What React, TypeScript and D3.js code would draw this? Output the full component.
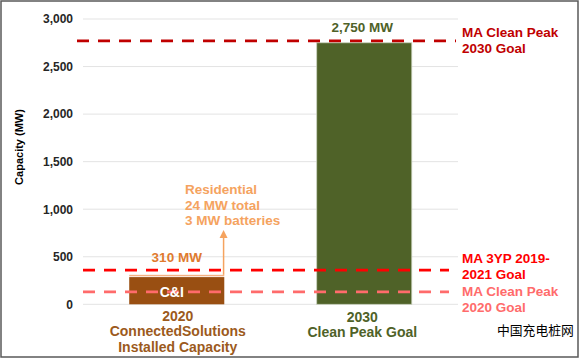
import React from "react";
import * as d3 from "d3";

const categories = ["2020", "2030"];
const categoryLabels = [
  ["2020", "ConnectedSolutions", "Installed Capacity"],
  ["2030", "Clean Peak Goal"],
];
const ciValues = [286, 0];
const residentialValues = [24, 0];
const goalBarValues = [0, 2750];
const barValueLabels = ["310 MW", "2,750 MW"];
const barTotals = [310, 2750];
const yTicks = [0, 500, 1000, 1500, 2000, 2500, 3000];
const goalLineNames = [
  ["MA Clean Peak", "2030 Goal"],
  ["MA 3YP 2019-", "2021 Goal"],
  ["MA Clean Peak", "2020 Goal"],
];
const goalLineValues = [2770, 360, 130];
const residentialNote = ["Residential", "24 MW total", "3 MW batteries"];
const residentialArrowTop = 750;

const W = 582;
const H = 360;
const FONT = "'Liberation Sans', Arial, sans-serif";

export default function App() {
  const y = d3.scaleLinear().domain([0, 3000]).range([304.3, 19]);
  const x = d3
    .scaleBand<string>()
    .domain(categories)
    .range([83, 458])
    .paddingInner(0.493)
    .paddingOuter(0.2465);
  const bw = x.bandwidth();
  const fmt = d3.format(",");

  const goalColors = ["#C00000", "#FF0000", "#FF6B6B"];
  const goalX = [
    [77, 456],
    [83, 449],
    [83, 449],
  ];
  const goalLabelBase = [
    [37, 53],
    [263, 279],
    [296, 311.5],
  ];

  const x0 = x(categories[0])!;
  const x1 = x(categories[1])!;
  const c0 = x0 + bw / 2;
  const c1 = x1 + bw / 2;

  return (
    <svg
      width={W}
      height={H}
      style={{ position: "fixed", left: 0, top: 0, background: "#fff" }}
      fontFamily={FONT}
    >
      <rect x={0} y={0} width={W} height={H} fill="#fff" />
      <rect x={1} y={1} width={577} height={356} fill="none" stroke="#595959" strokeWidth={1.5} />

      {/* gridlines */}
      {yTicks.map((t) => (
        <line key={t} x1={83} x2={458} y1={y(t)} y2={y(t)} stroke="#E3E3E3" strokeWidth={1} />
      ))}
      {/* tick labels */}
      {yTicks.map((t) => (
        <text
          key={"l" + t}
          x={73}
          y={y(t) + 4.3}
          textAnchor="end"
          fontSize={12}
          fontWeight="bold"
          fill="#262626"
        >
          {fmt(t)}
        </text>
      ))}
      <text
        transform={`translate(23,147) rotate(-90)`}
        textAnchor="middle"
        fontSize={11}
        fontWeight="bold"
        fill="#000"
      >
        Capacity (MW)
      </text>

      {/* 2020 stacked bar */}
      <rect
        x={x0}
        y={y(ciValues[0])}
        width={bw}
        height={y(0) - y(ciValues[0])}
        fill="#994F12"
      />
      <rect
        x={x0}
        y={y(ciValues[0] + residentialValues[0])}
        width={bw}
        height={y(ciValues[0]) - y(ciValues[0] + residentialValues[0]) - 0.8}
        fill="#F4B183"
      />
      {/* 2030 bar */}
      <rect
        x={x1}
        y={y(goalBarValues[1])}
        width={bw}
        height={y(0) - y(goalBarValues[1])}
        fill="#4F6228"
        stroke="#C9D1BC"
        strokeWidth={0.8}
      />

      {/* goal dashed lines */}
      {goalLineValues.map((v, i) => (
        <line
          key={"g" + i}
          x1={goalX[i][0]}
          x2={goalX[i][1]}
          y1={y(v)}
          y2={y(v)}
          stroke={goalColors[i]}
          strokeWidth={2.8}
          strokeDasharray="12 9"
        />
      ))}
      {goalLineNames.map((lines, i) =>
        lines.map((s, j) => (
          <text
            key={"gl" + i + j}
            x={462}
            y={goalLabelBase[i][j]}
            fontSize={13.5}
            fontWeight="bold"
            fill={goalColors[i]}
          >
            {s}
          </text>
        ))
      )}

      {/* C&I label */}
      <text x={c0 - 5} y={297} textAnchor="middle" fontSize={14} fontWeight="bold" fill="#fff">
        C&amp;I
      </text>

      {/* value labels */}
      <text
        x={c0}
        y={y(barTotals[0]) - 13}
        textAnchor="middle"
        fontSize={13.5}
        fontWeight="bold"
        fill="#E07A2E"
      >
        {barValueLabels[0]}
      </text>
      <text
        x={c1 - 2}
        y={y(barTotals[1]) - 11}
        textAnchor="middle"
        fontSize={13.5}
        fontWeight="bold"
        fill="#4F6228"
      >
        {barValueLabels[1]}
      </text>

      {/* residential arrow */}
      <line
        x1={x0 + bw - 0.7}
        x2={x0 + bw - 0.7}
        y1={y(barTotals[0])}
        y2={y(residentialArrowTop) + 4}
        stroke="#F5A35F"
        strokeWidth={1.5}
      />
      <path
        d={`M${x0 + bw - 0.7 - 4},${y(residentialArrowTop) + 5} L${x0 + bw - 0.7},${y(residentialArrowTop) - 3} L${x0 + bw - 0.7 + 4},${y(residentialArrowTop) + 5} Z`}
        fill="#F5A35F"
      />
      {residentialNote.map((s, j) => (
        <text
          key={"r" + j}
          x={185}
          y={194 + j * 15.5}
          fontSize={13.5}
          fontWeight="bold"
          fill="#F5A35F"
        >
          {s}
        </text>
      ))}

      {/* category labels */}
      {categoryLabels[0].map((s, j) => (
        <text
          key={"c0" + j}
          x={c0 + 1}
          y={320.5 + j * 15.5}
          textAnchor="middle"
          fontSize={14}
          fontWeight="bold"
          fill="#9C5A1C"
        >
          {s}
        </text>
      ))}
      {categoryLabels[1].map((s, j) => (
        <text
          key={"c1" + j}
          x={c1 - 2}
          y={321.5 + j * 15.5}
          textAnchor="middle"
          fontSize={14}
          fontWeight="bold"
          fill="#4F6228"
        >
          {s}
        </text>
      ))}

      {/* watermark */}
      <text
        x={497}
        y={335}
        fontSize={12.8}
        fontFamily="'Noto Sans CJK SC', sans-serif"
        fill="#000"
      >
        中国充电桩网
      </text>
    </svg>
  );
}
